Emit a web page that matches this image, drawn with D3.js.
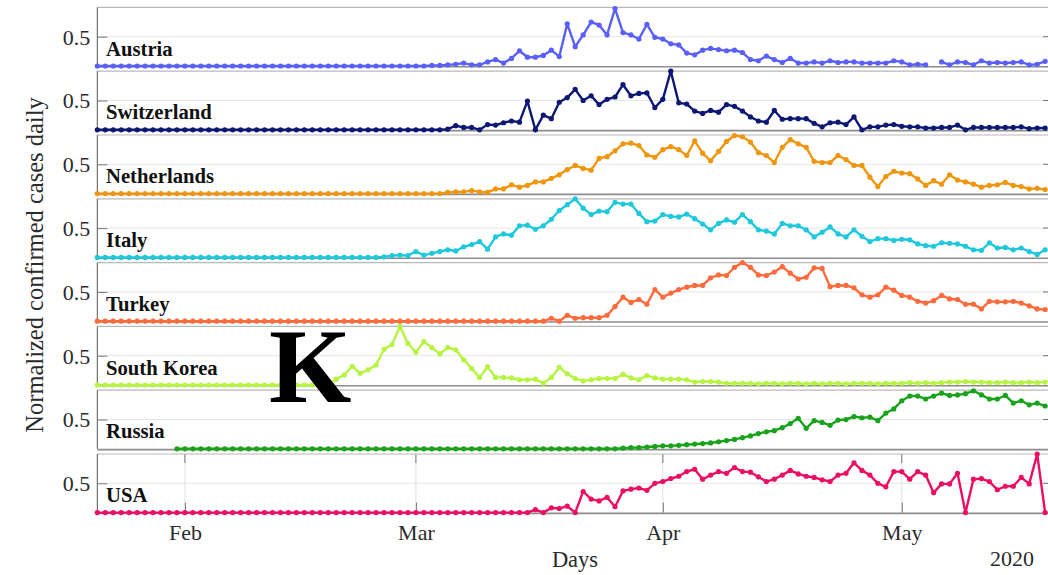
<!DOCTYPE html>
<html>
<head>
<meta charset="utf-8">
<script src="https://cdn.jsdelivr.net/npm/d3@7"></script>
<style>
  html, body { margin: 0; padding: 0; background: #fff; }
  svg { display: block; }
  text { font-family: "Liberation Serif", "Times New Roman", serif; }
</style>
</head>
<body>
<svg id="chart" width="1048" height="575"></svg>
<script>
// ---------- DATA (daily, starting 2020-01-21) ----------
const startDate = "2020-01-21";
const countries = ["Austria", "Switzerland", "Netherlands", "Italy", "Turkey", "South Korea", "Russia", "USA"];
const colors = ["#5a60f7", "#0c1873", "#f0960e", "#1fc8dc", "#ff6a3d", "#b6f442", "#18a31a", "#ea0f64"];
const monthTicks = ["2020-02-01", "2020-03-01", "2020-04-01", "2020-05-01"];
const yTicks = [0.5];

const austria = [
  0,0,0,0,0,0,0,0,0,0,
  0,0,0,0,0,0,0,0,0,0,
  0,0,0,0,0,0,0,0,0,0,
  0,0,0,0,0,0,0,0,0,0,
  0,0,0.01,0.01,0.02,0.03,0.05,0.02,0.02,0.07,
  0.11,0.05,0.13,0.26,0.15,0.15,0.18,0.27,0.16,0.72,
  0.33,0.53,0.75,0.70,0.53,0.98,0.57,0.53,0.46,0.71,
  0.49,0.46,0.38,0.36,0.22,0.19,0.27,0.30,0.28,0.26,
  0.27,0.23,0.11,0.09,0.17,0.11,0.06,0.13,0.05,0.05,
  0.07,0.05,0.09,0.06,0.07,0.07,0.05,0.05,0.05,0.05,
  0.09,0.07,0.02,0.03,0.02,null,0.07,0.02,0.07,0.06,
  0.02,0.09,0.05,0.06,0.05,0.06,0.07,0.02,0.03,0.08
];
const switzerland = [
  0,0,0,0,0,0,0,0,0,0,
  0,0,0,0,0,0,0,0,0,0,
  0,0,0,0,0,0,0,0,0,0,
  0,0,0,0,0,0,0,0,0,0,
  0,0,0,0,0.01,0.07,0.04,0.04,0,0.09,
  0.08,0.12,0.15,0.13,0.49,0,0.25,0.19,0.47,0.55,
  0.69,0.50,0.58,0.43,0.52,0.56,0.77,0.58,0.62,0.63,
  0.38,0.52,1.0,0.46,0.44,0.32,0.28,0.33,0.30,0.43,
  0.40,0.32,0.22,0.15,0.13,0.33,0.18,0.19,0.19,0.19,
  0.11,0.05,0.12,0.13,0.09,0.22,0,0.05,0.05,0.08,
  0.09,0.06,0.05,0.05,0.03,0.03,0.04,0.04,0.08,0,
  0.04,0.04,0.04,0.04,0.04,0.04,0.05,0.02,0.03,0.03
];
const netherlands = [
  0,0,0,0,0,0,0,0,0,0,
  0,0,0,0,0,0,0,0,0,0,
  0,0,0,0,0,0,0,0,0,0,
  0,0,0,0,0,0,0,0,0,0,
  0,0,0,0,0.02,0.03,0.03,0.05,0.03,0.02,
  0.08,0.08,0.15,0.11,0.14,0.20,0.20,0.26,0.32,0.41,
  0.48,0.43,0.40,0.60,0.63,0.73,0.85,0.86,0.82,0.66,
  0.62,0.75,0.80,0.75,0.65,0.90,0.69,0.56,0.72,0.89,
  0.99,0.97,0.88,0.70,0.65,0.53,0.79,0.92,0.85,0.79,
  0.55,0.53,0.53,0.65,0.58,0.48,0.48,0.28,0.12,0.29,
  0.38,0.35,0.34,0.25,0.14,0.22,0.16,0.32,0.23,0.20,
  0.16,0.11,0.14,0.15,0.19,0.14,0.12,0.08,0.09,0.07
];
const italy = [
  0,0,0,0,0,0,0,0,0,0,
  0,0,0,0,0,0,0,0,0,0,
  0,0,0,0,0,0,0,0,0,0,
  0,0,0,0,0,0,0.01,0.03,0.04,0.03,
  0.10,0.04,0.07,0.10,0.13,0.11,0.18,0.22,0.27,0.14,
  0.35,0.40,0.38,0.54,0.55,0.48,0.54,0.65,0.80,0.90,
  1.0,0.84,0.73,0.79,0.78,0.94,0.91,0.91,0.75,0.61,
  0.62,0.73,0.70,0.69,0.74,0.66,0.57,0.47,0.58,0.64,
  0.60,0.73,0.61,0.47,0.45,0.40,0.58,0.54,0.54,0.47,
  0.35,0.43,0.52,0.40,0.35,0.47,0.36,0.27,0.32,0.32,
  0.29,0.31,0.30,0.23,0.20,0.19,0.25,0.24,0.23,0.19,
  0.13,0.12,0.25,0.16,0.17,0.13,0.16,0.10,0.05,0.13
];
const turkey = [
  0,0,0,0,0,0,0,0,0,0,
  0,0,0,0,0,0,0,0,0,0,
  0,0,0,0,0,0,0,0,0,0,
  0,0,0,0,0,0,0,0,0,0,
  0,0,0,0,0,0,0,0,0,0,
  0,0,0,0,0,0,0,0.05,0,0.10,
  0.05,0.06,0.06,0.06,0.10,0.25,0.41,0.32,0.37,0.29,
  0.54,0.41,0.48,0.54,0.58,0.61,0.61,0.74,0.79,0.78,
  0.92,1.0,0.92,0.79,0.78,0.84,0.93,0.82,0.72,0.75,
  0.91,0.90,0.59,0.61,0.61,0.57,0.45,0.41,0.45,0.58,
  0.53,0.44,0.41,0.34,0.31,0.35,0.44,0.38,0.37,0.29,
  0.29,0.21,0.34,0.33,0.33,0.34,0.31,0.26,0.21,0.20
];
const southKorea = [
  0,0,0,0,0,0,0,0,0,0,
  0,0,0,0,0,0,0,0,0,0,
  0,0,0,0,0,0,0,0,0,0.01,
  0.10,0.17,0.32,0.20,0.26,0.34,0.61,0.69,1.0,0.71,
  0.56,0.74,0.64,0.53,0.64,0.60,0.43,0.28,0.13,0.31,
  0.13,0.13,0.12,0.09,0.09,0.10,0.03,0.13,0.30,0.19,
  0.11,0.07,0.09,0.11,0.11,0.11,0.18,0.12,0.09,0.16,
  0.12,0.10,0.10,0.10,0.09,0.05,0.06,0.06,0.05,0.03,
  0.03,0.03,0.03,0.02,0.03,0.03,0.02,0.03,0.03,0.02,
  0.03,0.02,0.03,0.03,0.02,0.03,0.03,0.03,0.02,0.03,
  0.03,0.03,0.04,0.03,0.04,0.03,0.04,0.05,0.05,0.06,
  0.05,0.05,0.04,0.04,0.05,0.04,0.04,0.05,0.04,0.05
];
const russia = [
  null,null,null,null,null,null,null,null,null,null,
  0,0,0,0,0,0,0,0,0,0,
  0,0,0,0,0,0,0,0,0,0,
  0,0,0,0,0,0,0,0,0,0,
  0,0,0,0,0,0,0,0,0,0,
  0,0,0,0,0,0,0,0,0,0,
  0,0,0,0,0,0,0.01,0.02,0.02,0.03,
  0.04,0.05,0.05,0.06,0.07,0.08,0.09,0.10,0.12,0.14,
  0.16,0.19,0.22,0.26,0.29,0.31,0.36,0.43,0.52,0.35,
  0.48,0.45,0.40,0.49,0.50,0.55,0.53,0.54,0.48,0.61,
  0.68,0.82,0.90,0.90,0.85,0.90,0.95,0.91,0.92,0.94,
  0.99,0.92,0.85,0.85,0.91,0.78,0.82,0.75,0.78,0.73
];
const usa = [
  0,0,0,0,0,0,0,0,0,0,
  0,0,0,0,0,0,0,0,0,0,
  0,0,0,0,0,0,0,0,0,0,
  0,0,0,0,0,0,0,0,0,0,
  0,0,0,0,0,0,0,0,0,0,
  0,0,0,0,0,0.05,0,0.08,0.07,0.11,
  0,0.36,0.23,0.20,0.26,0.10,0.37,0.40,0.42,0.38,
  0.50,0.53,0.58,0.62,0.70,0.74,0.57,0.64,0.70,0.67,
  0.77,0.70,0.69,0.61,0.53,0.57,0.64,0.72,0.66,0.62,
  0.60,0.56,0.53,0.64,0.67,0.85,0.72,0.64,0.50,0.44,
  0.70,0.70,0.57,0.70,0.64,0.34,0.49,0.49,0.67,0,
  0.57,0.58,0.53,0.39,0.45,0.45,0.60,0.49,1.0,0
];
const seriesValues = [austria, switzerland, netherlands, italy, turkey, southKorea, russia, usa];

// ---------- LAYOUT ----------
const W = 1048, H = 575;
const plotLeft = 97.3, plotRight = 1049;
const dayPx = 7.965;
const firstBottom = 66, panelStep = 63.8, panelH = 58.6;

const svg = d3.select("#chart");
svg.append("rect").attr("width", W).attr("height", H).attr("fill", "#fff");

const parse = d3.timeParse("%Y-%m-%d");
const t0 = parse(startDate);
const nDays = austria.length;
const dates = d3.range(nDays).map(i => d3.timeDay.offset(t0, i));

const x = d3.scaleTime()
  .domain([t0, d3.timeDay.offset(t0, 120)])
  .range([plotLeft, plotLeft + 120 * dayPx]);

countries.forEach((name, i) => {
  const bottom = firstBottom + i * panelStep;
  const top = bottom - panelH;
  const y = d3.scaleLinear().domain([0, 1]).range([bottom, top]);
  const g = svg.append("g");
  const isLast = i === countries.length - 1;

  // horizontal grid at 0.5
  g.selectAll(".hgrid").data(yTicks).join("line")
    .attr("x1", plotLeft).attr("x2", plotRight)
    .attr("y1", d => y(d)).attr("y2", d => y(d))
    .attr("stroke", "#e6e6e6").attr("stroke-width", 1);

  if (isLast) {
    g.selectAll(".vgrid").data(monthTicks.map(parse)).join("line")
      .attr("x1", d => x(d)).attr("x2", d => x(d))
      .attr("y1", top).attr("y2", bottom)
      .attr("stroke", "#e0e0e0").attr("stroke-width", 1);
    g.selectAll(".vtick").data(monthTicks.map(parse)).join("line")
      .attr("x1", d => x(d)).attr("x2", d => x(d))
      .attr("y1", top).attr("y2", top + 9)
      .attr("stroke", "#777").attr("stroke-width", 1);
  }

  // frame
  g.append("line").attr("x1", plotLeft).attr("x2", plotRight)
    .attr("y1", top).attr("y2", top).attr("stroke", "#b8b8b8").attr("stroke-width", 1.2);
  g.append("line").attr("x1", plotLeft).attr("x2", plotLeft)
    .attr("y1", top).attr("y2", bottom).attr("stroke", "#555").attr("stroke-width", 1);
  g.append("line").attr("x1", plotLeft).attr("x2", plotRight)
    .attr("y1", bottom + 0.8).attr("y2", bottom + 0.8).attr("stroke", "#8c8c8c").attr("stroke-width", 1.6);

  g.selectAll(".rtick").data(yTicks).join("line")
    .attr("x1", plotRight - 6).attr("x2", plotRight)
    .attr("y1", d => y(d)).attr("y2", d => y(d))
    .attr("stroke", "#777").attr("stroke-width", 1);

  const ya = g.append("g").attr("transform", `translate(${plotLeft},0)`)
    .call(d3.axisLeft(y).tickValues(yTicks).tickFormat(d3.format(".1f")).tickSize(-10).tickPadding(7));
  ya.select(".domain").remove();
  ya.selectAll(".tick line").attr("stroke", "#777");
  ya.selectAll(".tick text").attr("font-size", 22).attr("fill", "#2a2a2a").attr("dy", "0.34em");

  if (isLast) {
    const xa = g.append("g").attr("transform", `translate(0,${bottom})`)
      .call(d3.axisBottom(x).tickValues(monthTicks.map(parse))
        .tickFormat(d3.timeFormat("%b")).tickSize(-10).tickPadding(12));
    xa.select(".domain").remove();
    xa.selectAll(".tick line").attr("stroke", "#777");
    xa.selectAll(".tick text").attr("font-size", 22).attr("fill", "#2a2a2a");
  }

  const pts = dates.map((d, k) => ({ d, v: seriesValues[i][k] }));
  const line = d3.line().defined(p => p.v !== null)
    .x(p => x(p.d)).y(p => y(p.v));
  g.append("path").datum(pts)
    .attr("d", line).attr("fill", "none")
    .attr("stroke", colors[i]).attr("stroke-width", 2.4)
    .attr("stroke-linejoin", "round");
  g.selectAll(".dot").data(pts.filter(p => p.v !== null)).join("circle")
    .attr("cx", p => x(p.d)).attr("cy", p => y(p.v))
    .attr("r", 2.6).attr("fill", colors[i]);

  g.append("text").attr("x", 106).attr("y", bottom - 10.5)
    .attr("font-size", 20.7).attr("font-weight", "bold").attr("fill", "#111")
    .text(name);
});

svg.append("text").attr("transform", "translate(43,265) rotate(-90)")
  .attr("text-anchor", "middle").attr("font-size", 24.5).attr("fill", "#2a2a2a")
  .text("Normalized confirmed cases daily");
svg.append("text").attr("x", 575).attr("y", 567).attr("text-anchor", "middle")
  .attr("font-size", 22.5).attr("fill", "#2a2a2a").text("Days");
svg.append("text").attr("x", 1034).attr("y", 566).attr("text-anchor", "end")
  .attr("font-size", 22).attr("fill", "#2a2a2a").text("2020");

svg.append("text").attr("x", 269).attr("y", 402)
  .attr("font-size", 106).attr("font-weight", "bold").attr("fill", "#000")
  .text("K");
</script>
</body>
</html>
